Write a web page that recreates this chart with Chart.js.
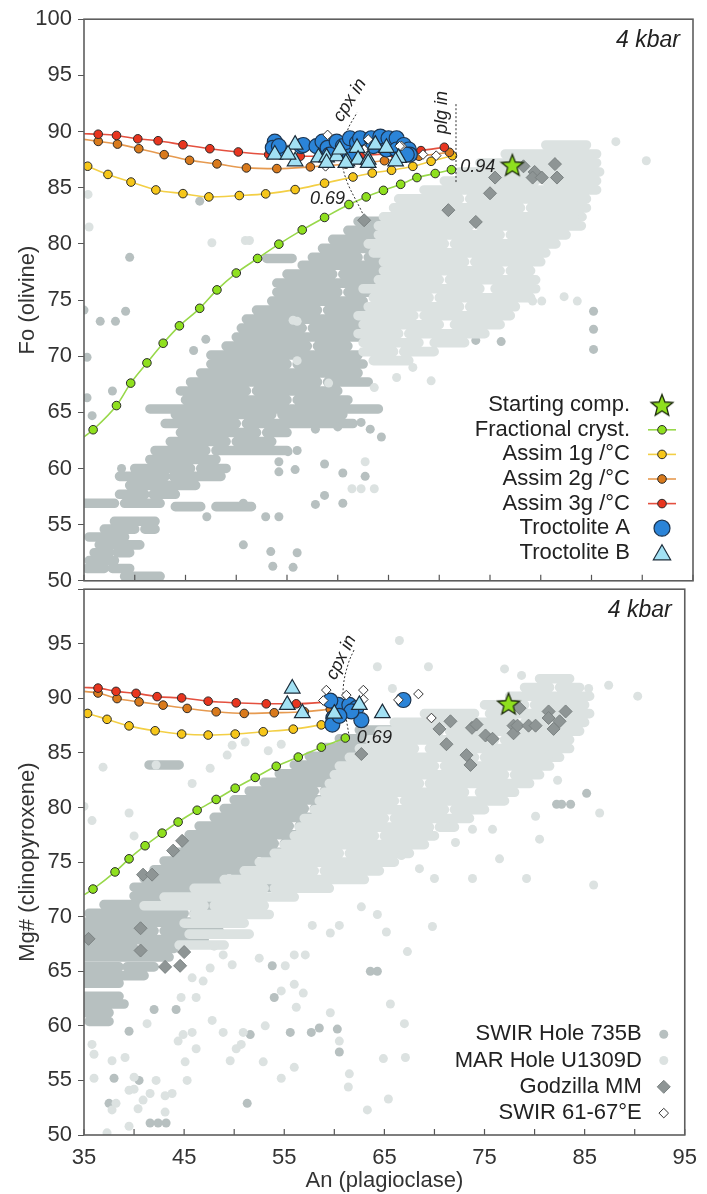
<!DOCTYPE html>
<html>
<head>
<meta charset="utf-8">
<script src="https://cdn.jsdelivr.net/npm/chart.js@4.4.0/dist/chart.umd.min.js"></script>
<style>
  body { margin: 0; background: #fff; width: 707px; height: 1194px; position: relative; overflow: hidden; }
  #olChart { position: absolute; left: 0; top: 0; }
  #cpxChart { position: absolute; left: 0; top: 570px; }
</style>
</head>
<body>
<canvas id="olChart" width="707" height="600"></canvas>
<canvas id="cpxChart" width="707" height="624"></canvas>
<script>
// ---------- shared axis ----------
const anTickMarks = [35, 40, 45, 50, 55, 60, 65, 70, 75, 80, 85, 90, 95];

// ---------- olivine panel (An, Fo) ----------
// model curves, first point = where the line meets the left axis
const olFracCryst = [[35,62.8],[35.9,63.45],[38.2,65.6],[39.6,67.6],[41.2,69.4],[42.8,71.15],[44.4,72.7],[46.4,74.26],[48.1,75.9],[50.0,77.4],[52.1,78.7],[54.2,79.97],[56.5,81.24],[58.7,82.35],[61.1,83.5],[62.8,84.18],[64.5,84.76],[66.2,85.3],[67.8,85.9],[69.6,86.26],[71.2,86.6]];
const olAssim1 = [[35,87.05],[35.36,86.91],[37.36,86.18],[39.63,85.5],[42.08,84.8],[44.75,84.47],[47.3,84.18],[50.3,84.3],[52.9,84.45],[55.8,84.83],[58.7,85.4],[61.5,85.95],[63.4,86.3],[65.3,86.55],[67.4,86.9],[69.2,87.35],[71.3,87.85]];
const olAssim2 = [[35,89.3],[36.4,89.12],[38.3,88.88],[40.4,88.47],[42.9,87.94],[45.4,87.44],[48.1,87.12],[51.0,86.76],[54.0,86.7],[57.3,86.85],[60.8,87.1],[64.6,87.4],[68.0,87.8],[71.0,88.15]];
const olAssim3 = [[35,89.8],[36.4,89.76],[38.2,89.65],[40.3,89.35],[42.3,89.18],[44.75,88.82],[47.4,88.47],[50.2,88.18],[53.2,87.95],[56.3,87.8],[59.4,87.8],[62.5,87.9],[65.5,88.05],[68.2,88.3],[70.5,88.6]];
const olStart = [[77.2, 87.0]];
const olTrocA = [[53.8,89.1],[53.6,88.55],[54.3,88.24],[54.2,88.7],[56.4,88.7],[56.6,88.8],[57.9,88.7],[58.5,89.1],[59.0,88.55],[59.9,89.1],[60.5,88.7],[61.2,89.4],[61.9,89.0],[62.2,89.4],[63.3,89.4],[63.5,88.7],[64.2,89.55],[64.8,88.4],[65.0,89.4],[65.8,89.4],[65.8,88.4],[66.5,88.8],[67.0,88.4],[67.1,87.95],[59.2,87.95],[61.2,87.8],[66.8,87.95]];
const olTrocB = [[53.8,87.95],[55.8,88.83],[55.8,87.35],[55.1,87.95],[58.1,87.7],[58.9,87.7],[59.9,87.8],[60.9,87.35],[61.9,88.55],[62.0,87.5],[63.0,87.5],[63.7,88.83],[64.8,88.55],[66.0,87.65],[60.2,88.4],[58.9,87.2],[60.8,87.2],[63.0,87.2],[65.7,87.35]];
const olSwir6167 = [[59.0,89.7],[63.0,89.3],[62.7,88.3],[66.3,88.7],[58.8,86.9],[68.4,87.95],[69.7,87.85],[62.6,88.4],[66.1,88.7]];
const olGodzilla = [[62.6,82.1],[70.9,83.0],[73.6,81.95],[75.0,84.5],[75.5,85.9],[78.3,86.9],[79.4,86.4],[79.2,85.9],[80.1,85.9],[81.4,87.1],[81.6,85.9]];
const olCpxIn = [[62.6,82.4],[60.5,86.8],[60.9,89.9],[61.9,91.7]];
const olPlgIn = [[71.65,85.5],[71.65,92.5]];
// dense rows of SWIR 735B / U1309D analyses: [Fo, An from, An to, An from, An to ...]
const olHole735BRows = [[50.4,39.0,42.5],[51.1,35.3,37.0,37.8,39.5],[51.8,35.5,38.0],[52.5,36.0,37.5,38.3,39.5],[53.2,36.5,40.5],[53.9,35.5,37.0,37.8,39.0],[54.6,37.0,40.0,41.0,42.0],[55.3,38.0,42.0],[56.6,44.0,46.5,48.0,51.5],[56.9,35.0,38.0,39.0,42.5],[57.7,38.5,41.0,41.8,44.0],[58.5,39.5,46.0],[59.3,38.5,43.0,43.8,48.5],[60.0,40.0,45.5,46.5,49.0],[60.8,41.5,48.0],[61.6,42.0,47.0,48.0,55.0],[62.4,43.5,49.0,50.0,53.5],[63.2,44.5,52.0,53.0,55.0],[64.0,43.0,50.0,51.0,61.5],[64.8,44.0,53.5,54.5,60.5],[65.3,41.5,64.0],[66.1,45.0,55.0,56.0,61.0],[66.9,44.5,51.0,52.0,60.0],[67.7,45.5,58.0,59.0,63.0],[68.5,46.5,62.0],[69.3,47.5,55.0,56.0,62.5],[70.1,47.5,62.0],[70.9,49.0,57.0,58.0,61.0],[71.7,50.0,62.0],[72.5,50.5,56.5,57.5,63.0],[73.3,51.0,62.5],[74.1,52.0,58.0,59.0,63.5],[74.9,53.5,62.5],[75.7,54.0,60.0,61.0,63.5],[76.5,54.0,64.5],[77.3,55.0,59.5,60.5,65.5],[78.1,56.5,64.0],[78.7,53.0,55.5],[78.8,57.5,62.0,63.0,66.0],[79.6,58.5,67.0],[80.4,59.5,63.5,64.5,68.0],[81.2,61.0,65.0,66.0,70.0],[82.0,62.0,66.0]];
const olHole735BDots = [[35.0,74.1],[36.6,73.1],[38.1,73.1],[39.1,74.0],[35.3,69.9],[35.3,66.3],[35.8,64.7],[37.8,66.9],[38.7,60.0],[41.5,60.8],[39.5,78.8],[46.4,83.8],[54.2,59.7],[55.8,59.9],[58.7,60.4],[60.5,59.6],[62.7,59.3],[52.9,55.7],[54.2,55.7],[50.7,53.2],[53.4,52.6],[56.0,52.5],[53.6,51.3],[55.6,51.2],[58.7,57.6],[60.5,56.9],[57.8,56.8],[50.7,56.9],[47.1,55.7],[57.8,63.5],[60.0,63.7],[62.3,64.1],[63.2,63.5],[55.1,61.5],[54.2,60.6],[56.0,61.6],[85.2,74.0],[85.2,72.4],[85.2,70.6],[76.1,71.3],[73.6,71.4],[45.8,70.5],[47.0,71.5],[64.3,62.8]];
const olU1309DRows = [[69.6,63.5,67.0],[70.4,62.5,65.5,66.5,69.5],[71.2,62.5,68.0,69.5,72.5],[72.0,62.0,66.0,67.0,74.5],[72.8,62.5,70.0,71.5,76.0],[73.6,62.0,67.5,68.5,77.0],[74.4,63.0,72.0,73.0,77.5],[75.2,63.5,69.0,70.0,79.0],[76.0,62.5,74.0,75.5,79.5],[76.8,64.0,70.0,71.0,79.5],[77.6,64.5,76.0,77.0,79.0],[78.4,64.5,72.5,73.5,80.0],[79.2,63.5,80.5],[80.0,63.0,70.5,71.5,81.5],[80.8,64.0,76.0,77.0,82.5],[81.6,64.0,73.0,74.0,84.0],[82.4,64.5,84.0],[83.2,65.5,78.0,79.0,84.5],[84.0,66.0,72.0,73.0,84.5],[84.8,68.5,85.5],[85.6,70.5,79.5,80.5,85.5],[86.4,72.0,85.8],[87.2,74.0,81.0,82.0,85.5],[88.0,76.5,85.5],[88.8,80.5,84.5]];
const olU1309DDots = [[87.4,89.1],[90.4,87.4],[84.1,83.8],[84.1,82.4],[35.5,81.5],[35.4,84.4],[47.6,80.1],[50.9,80.3],[51.3,80.3],[79.2,74.9],[80.1,74.9],[82.3,75.3],[83.6,74.9],[67.4,69.0],[69.2,67.8],[65.8,68.1],[63.6,67.2],[62.7,60.6],[61.4,58.2],[62.3,58.2],[63.6,58.2],[56.0,73.1],[55.6,73.2],[56.0,69.6],[59.1,67.6]];

// ---------- clinopyroxene panel (An, Mg#) ----------
const cpxFracCryst = [[35,72.0],[35.9,72.53],[38.1,74.1],[39.5,75.3],[41.1,76.5],[42.8,77.65],[44.4,78.67],[46.3,79.75],[48.2,80.74],[50.1,81.77],[52.1,82.76],[54.2,83.78],[56.4,84.62],[58.7,85.53],[61.1,86.37]];
const cpxAssim1 = [[35,88.7],[35.36,88.62],[37.3,88.08],[39.5,87.48],[42.1,87.03],[44.75,86.73],[47.4,86.64],[50.1,86.73],[52.9,86.94],[55.9,87.18],[58.7,87.57]];
const cpxAssim2 = [[35,90.64],[36.4,90.49],[38.3,89.98],[40.5,89.68],[42.9,89.38],[45.3,89.08],[48.2,88.77],[51.0,88.62],[54.0,88.68],[57.0,88.78],[59.6,89.0]];
const cpxAssim3 = [[35,91.0],[36.4,90.94],[38.2,90.64],[40.2,90.46],[42.3,90.16],[44.75,90.04],[47.4,89.74],[50.2,89.59],[53.2,89.5],[56.2,89.5],[59.5,89.68]];
const cpxStart = [[77.4, 89.5]];
const cpxTrocA = [[60.4,89.4],[59.9,88.2],[61.5,89.4],[62.2,89.1],[62.7,88.0],[66.9,89.85],[61.7,88.8],[59.6,89.8],[59.8,87.6],[60.5,88.4]];
const cpxTrocB = [[55.8,90.9],[55.3,89.4],[56.8,88.65],[60.0,88.6],[62.5,89.4],[64.8,88.65]];
const cpxSwir6167 = [[59.2,90.76],[58.9,89.8],[61.2,90.3],[62.9,90.76],[62.9,89.9],[68.4,90.4],[66.4,89.86],[69.7,88.2]];
const cpxGodzilla = [[62.7,84.9],[70.5,87.2],[71.6,87.9],[71.2,85.8],[73.2,84.8],[73.6,83.9],[73.75,87.3],[74.2,87.6],[75.1,86.6],[75.8,86.3],[77.9,87.5],[77.9,86.8],[78.5,89.1],[78.3,87.5],[79.4,87.5],[80.1,87.5],[81.4,88.8],[81.4,88.2],[81.9,87.2],[82.5,87.9],[83.1,88.8],[43.9,76.05],[44.8,76.95],[40.9,73.85],[41.8,73.85],[35.45,67.97],[40.65,68.94],[40.65,66.9],[43.1,65.4],[44.6,65.5],[45.0,66.76]];
const cpxCpxIn = [[61.5,86.4],[61.0,89.4],[60.9,91.1],[61.4,93.2],[62.0,94.5]];
// dense rows: [Mg#, An from, An to, An from, An to ...]
const cpxHole735BRows = [[60.4,35.5,37.5],[61.2,35.0,37.5],[62.0,35.0,39.0],[62.7,35.0,38.5],[63.9,35.0,38.5],[64.6,35.0,41.0],[65.4,35.0,38.5,39.3,42.0],[66.3,35.0,43.5],[67.1,35.0,40.0,41.0,44.0],[67.9,35.0,47.0],[68.7,35.0,42.0,43.0,48.5],[69.5,35.0,50.5],[70.3,35.5,45.0,46.0,52.0],[71.1,37.0,51.5],[71.9,40.0,47.0,48.0,52.0],[72.7,40.0,55.0],[73.5,41.0,49.0,50.0,56.0],[74.3,42.0,57.5],[75.1,43.0,52.0,53.0,58.5],[75.9,44.0,59.5],[76.7,45.0,54.0,55.0,60.0],[77.5,45.5,61.0],[78.3,46.5,55.5,56.5,61.5],[79.1,48.0,62.0],[79.9,49.0,57.0,58.0,63.0],[80.7,50.0,63.5],[81.5,51.5,58.0,59.0,64.0],[82.3,53.0,64.5],[83.1,54.5,60.0,61.0,65.5],[83.9,56.0,66.0],[83.9,41.5,44.5],[84.7,57.5,67.0],[85.5,59.0,67.5],[86.3,60.5,68.0],[87.1,62.5,66.5]];
const cpxHole735BDots = [[43.2,51.1],[41.6,51.1],[42.4,51.1],[51.3,52.9],[51.6,59.2],[54.0,62.6],[55.6,59.4],[57.7,59.4],[58.5,59.8],[60.3,59.7],[60.5,57.6],[63.6,65.0],[64.3,65.0],[53.8,65.5],[44.2,61.5],[42.0,61.5],[39.5,59.5],[38.0,55.2],[85.2,81.3],[83.6,80.3],[82.7,80.3],[82.2,80.3],[69.4,78.0],[37.5,52.9],[40.5,55.0]];
const cpxU1309DRows = [[91.8,80.5,83.5],[91.0,79.0,81.5,82.5,84.5],[90.2,77.5,85.5],[89.4,75.0,79.0,80.0,85.0],[88.6,69.0,74.0,75.5,85.5],[87.8,66.0,78.0,79.0,85.0],[87.0,64.5,70.5,71.5,84.5],[86.2,63.5,76.0,77.0,83.5],[85.4,62.5,68.0,69.5,83.5],[84.6,61.5,74.0,75.0,82.5],[83.8,60.5,70.0,71.0,81.5],[83.0,60.0,77.0,78.0,80.5],[82.2,59.5,68.5,69.5,79.5],[81.4,59.0,73.0,74.5,78.0],[80.6,58.5,66.0,67.0,77.0],[79.8,58.0,71.0,72.0,75.0],[79.0,57.0,65.0,66.0,73.5],[78.2,56.5,69.5,70.5,72.0],[77.4,56.0,64.0,65.0,70.0],[76.6,55.0,69.0],[75.8,54.0,60.5,61.5,67.5],[75.0,52.5,66.0],[74.2,51.0,58.0,59.0,64.5],[73.4,49.0,63.0],[72.6,46.0,53.0,54.0,59.5],[71.8,43.0,56.0],[71.0,41.0,47.0,48.0,53.0],[70.2,46.0,53.5],[69.4,45.0,51.0],[68.4,45.5,51.5],[67.4,44.5,49.0]];
const cpxU1309DDots = [[66.5,95.3],[69.4,92.9],[64.3,92.9],[65.8,90.9],[77.0,92.7],[78.7,92.1],[90.3,90.2],[87.4,91.2],[85.4,90.9],[86.5,79.5],[85.9,72.9],[82.3,82.5],[81.4,84.8],[80.1,79.2],[80.5,77.1],[79.2,73.5],[76.5,75.3],[75.8,78.0],[73.8,78.0],[71.2,78.3],[72.1,76.8],[70.0,73.5],[68.5,74.4],[66.7,75.6],[73.8,73.5],[35.0,80.1],[35.8,78.8],[39.5,79.5],[40.0,77.4],[42.2,83.9],[45.8,82.2],[47.6,83.6],[49.3,84.8],[49.8,85.7],[51.1,86.0],[53.4,85.2],[54.7,85.8],[36.9,83.7],[37.3,50.2],[37.8,52.3],[38.2,52.9],[39.5,50.8],[40.0,54.2],[40.0,55.3],[40.9,53.2],[41.6,53.8],[42.2,55.0],[43.1,53.6],[43.1,52.1],[43.8,53.8],[45.3,55.0],[45.1,56.7],[44.4,58.6],[44.9,59.2],[45.8,59.4],[46.2,57.9],[47.8,60.5],[48.9,59.4],[49.6,56.8],[50.2,57.9],[50.7,58.3],[50.9,59.4],[52.9,56.7],[53.1,60.0],[54.7,63.2],[54.7,55.2],[56.0,56.2],[56.2,61.7],[56.0,63.8],[56.9,63.0],[59.6,61.2],[60.5,58.6],[61.4,54.4],[61.5,55.6],[63.3,52.3],[64.9,57.0],[65.4,53.3],[65.6,62.0],[67.1,57.1],[67.0,60.2],[67.3,66.8],[65.2,68.6],[69.8,69.1],[64.3,70.2],[62.7,70.9],[60.5,69.2],[59.6,68.5],[57.8,69.2],[57.1,66.5],[56.0,66.5],[55.1,65.5],[52.5,66.2],[49.8,65.6],[48.9,66.5],[48.0,67.3],[47.6,65.3],[46.2,62.6],[45.8,64.4],[46.9,64.1],[44.7,62.6],[41.3,60.2],[36.0,57.4],[35.8,58.3],[37.8,56.8],[39.1,57.1],[39.5,54.1],[40.4,52.4],[36.0,55.2]];

// ---------- styles ----------
Chart.defaults.font.family = "'Liberation Sans', Arial, sans-serif";
Chart.defaults.color = '#333';
const FONT = "'Liberation Sans', Arial, sans-serif";
const COL = {
  dark: '#b7c0c0', light: '#dce2e1',
  red: '#e8351f', redLine: '#e4503f',
  orange: '#d97a1c', orangeLine: '#e69a50',
  yellow: '#f6c619', yellowLine: '#f3cf45',
  green: '#8fe01e', greenLine: '#98d84a',
  blue: '#2b84d8', cyan: '#a2e1f4', grey: '#8e9595', edge: '#2a2a2a'
};

function starPath(ctx, cx, cy, R, r) {
  ctx.beginPath();
  for (let i = 0; i < 10; i++) {
    const ang = -Math.PI / 2 + i * Math.PI / 5;
    const rr = i % 2 ? r : R;
    ctx.lineTo(cx + rr * Math.cos(ang), cy + rr * Math.sin(ang));
  }
  ctx.closePath();
}
const starImg = document.createElement('canvas');
starImg.width = 26; starImg.height = 26;
(function () {
  const c = starImg.getContext('2d');
  starPath(c, 13, 13.8, 11.5, 5);
  c.fillStyle = COL.green; c.fill();
  c.strokeStyle = '#1c2a0c'; c.lineWidth = 1.3; c.stroke();
})();

const pts = arr => arr.map(p => ({x: p[0], y: p[1]}));
// each row: value, then pairs of An limits; a NaN point breaks the line between pieces
const rows = arr => arr.flatMap(r => {
  const out = [];
  for (let i = 1; i + 1 < r.length; i += 2) {
    out.push({x: r[i], y: r[0]}, {x: r[i + 1], y: r[0]}, {x: NaN, y: NaN});
  }
  return out;
});

function curve(data, line, fill) {
  return { data: pts(data), showLine: true, borderColor: line, borderWidth: 1.6,
    backgroundColor: fill, pointBorderColor: COL.edge, pointBorderWidth: 1,
    pointRadius: c => c.dataIndex === 0 ? 0 : 4.3, cubicInterpolationMode: 'monotone' };
}
function guide(data) {
  return { data: pts(data), showLine: true, borderColor: '#333', borderWidth: 1,
    borderDash: [2, 2], pointRadius: 0, tension: 0.4 };
}
function cloudRows(data, color) {
  return { data: rows(data), showLine: true, borderColor: color, borderWidth: 9.6,
    borderCapStyle: 'round', pointRadius: 0, spanGaps: false, clip: 0 };
}
function cloudDots(data, color) {
  return { data: pts(data), pointRadius: 4.5, backgroundColor: color, borderWidth: 0, pointBorderWidth: 0, clip: 0 };
}

// datasets listed top-most first (Chart.js draws index 0 last)
function panelSets(p) {
  return [
    { data: pts(p.start), pointStyle: starImg },
    { data: pts(p.trocB), pointStyle: 'triangle', pointRadius: 9, backgroundColor: COL.cyan, pointBorderColor: '#1c2c3a', pointBorderWidth: 1.2 },
    { data: pts(p.swir), pointStyle: 'rectRot', pointRadius: 4.8, backgroundColor: '#fff', pointBorderColor: '#333', pointBorderWidth: 1 },
    { data: pts(p.trocA), pointStyle: 'circle', pointRadius: 7.5, backgroundColor: COL.blue, pointBorderColor: '#1d3550', pointBorderWidth: 1.2 },
    { data: pts(p.godzilla), pointStyle: 'rectRot', pointRadius: 6.5, backgroundColor: COL.grey, pointBorderColor: '#7b8282', pointBorderWidth: 1 },
    ...p.guides.map(guide),
    curve(p.a3, COL.redLine, COL.red),
    curve(p.a2, COL.orangeLine, COL.orange),
    curve(p.a1, COL.yellowLine, COL.yellow),
    curve(p.fc, COL.greenLine, COL.green),
    cloudDots(p.lightDots, COL.light),
    cloudRows(p.lightRows, COL.light),
    cloudDots(p.darkDots, COL.dark),
    cloudRows(p.darkRows, COL.dark)
  ];
}

function drawMarker(ctx, kind, x, y, item) {
  ctx.save();
  ctx.lineWidth = 1.2;
  if (kind === 'star') {
    ctx.drawImage(starImg, x - 13, y - 13);
  } else if (kind === 'curve') {
    ctx.strokeStyle = item.line; ctx.lineWidth = 1.6;
    ctx.beginPath(); ctx.moveTo(x - 14, y); ctx.lineTo(x + 14, y); ctx.stroke();
    ctx.beginPath(); ctx.arc(x, y, 4.3, 0, Math.PI * 2);
    ctx.fillStyle = item.fill; ctx.fill(); ctx.strokeStyle = COL.edge; ctx.lineWidth = 1; ctx.stroke();
  } else if (kind === 'circle') {
    ctx.beginPath(); ctx.arc(x, y, 8, 0, Math.PI * 2);
    ctx.fillStyle = COL.blue; ctx.fill(); ctx.strokeStyle = '#1d3550'; ctx.stroke();
  } else if (kind === 'triangle') {
    const r = 10;
    ctx.beginPath();
    for (let i = 0; i < 3; i++) {
      const a = i * 2 * Math.PI / 3;
      ctx.lineTo(x + Math.sin(a) * r, y + 2 - Math.cos(a) * r);
    }
    ctx.closePath(); ctx.fillStyle = COL.cyan; ctx.fill(); ctx.strokeStyle = '#1c2c3a'; ctx.stroke();
  } else if (kind === 'dot') {
    ctx.beginPath(); ctx.arc(x, y, 4.5, 0, Math.PI * 2); ctx.fillStyle = item.fill; ctx.fill();
  } else if (kind === 'diamond') {
    const r = item.r;
    ctx.beginPath(); ctx.moveTo(x - r, y); ctx.lineTo(x, y - r); ctx.lineTo(x + r, y); ctx.lineTo(x, y + r); ctx.closePath();
    ctx.fillStyle = item.fill; ctx.fill(); ctx.strokeStyle = item.edge; ctx.lineWidth = 1; ctx.stroke();
  }
  ctx.restore();
}

function makeDecor(cfg) {
  return {
    id: 'decor',
    afterDraw(chart) {
      const {ctx, chartArea: a, scales: {x, y}} = chart;
      ctx.save();
      ctx.strokeStyle = '#555';
      ctx.lineWidth = 1.2;
      anTickMarks.forEach(v => {
        const px = x.getPixelForValue(v);
        ctx.beginPath(); ctx.moveTo(px, a.bottom); ctx.lineTo(px, a.bottom - 6); ctx.stroke();
      });
      ctx.lineWidth = 1.6;
      ctx.strokeStyle = '#5e5e5e';
      ctx.strokeRect(a.left, a.top, a.right - a.left, a.bottom - a.top);

      ctx.fillStyle = '#222';
      ctx.font = 'italic 23px ' + FONT;
      ctx.textAlign = 'right'; ctx.textBaseline = 'middle';
      ctx.fillText('4 kbar', a.right - 13, a.top + 21);

      ctx.font = 'italic 18px ' + FONT;
      cfg.notes.forEach(n => {
        ctx.save();
        ctx.translate(x.getPixelForValue(n.x), y.getPixelForValue(n.y));
        ctx.rotate(n.rot * Math.PI / 180);
        ctx.textAlign = 'center';
        ctx.fillText(n.text, 0, 0);
        ctx.restore();
      });

      ctx.font = '22px ' + FONT;
      ctx.textAlign = 'right';
      const lg = cfg.legend;
      lg.items.forEach((it, i) => {
        const yy = a.top + lg.top + i * lg.step;
        ctx.fillStyle = '#222';
        ctx.fillText(it.label, a.right - lg.textRight, yy);
        drawMarker(ctx, it.kind, a.right - lg.marker, yy, it);
      });
      ctx.restore();
    }
  };
}

function yAxis(title, hideTop) {
  return {
    min: 50, max: 100,
    ticks: { stepSize: 5, color: '#333', font: { size: 22 }, padding: 6,
      callback: v => (hideTop && v === 100) ? '' : v },
    grid: { drawOnChartArea: false, drawTicks: true, tickLength: 6, color: '#555' },
    border: { display: false },
    title: { display: true, text: title, color: '#333', font: { size: 22 }, padding: { top: 15, bottom: 0 } },
    afterFit: s => { s.width = 84; }
  };
}

const commonPlugins = { legend: { display: false }, tooltip: { enabled: false } };

// ---------- olivine chart ----------
new Chart(document.getElementById('olChart'), {
  type: 'scatter',
  data: { datasets: panelSets({
    start: olStart, trocA: olTrocA, trocB: olTrocB, swir: olSwir6167, godzilla: olGodzilla,
    guides: [olCpxIn, olPlgIn], fc: olFracCryst, a1: olAssim1, a2: olAssim2, a3: olAssim3,
    darkRows: olHole735BRows, darkDots: olHole735BDots, lightRows: olU1309DRows, lightDots: olU1309DDots
  }) },
  options: {
    responsive: false, animation: false, events: [],
    layout: { padding: { top: 19, right: 14, bottom: 17, left: 0 } },
    scales: {
      x: { type: 'linear', min: 35, max: 95, display: false },
      y: yAxis('Fo (olivine)', false)
    },
    plugins: commonPlugins
  },
  plugins: [makeDecor({
    notes: [
      { text: 'cpx in', x: 61.2, y: 92.8, rot: -58 },
      { text: 'plg in', x: 70.3, y: 91.7, rot: -90 },
      { text: '0.69', x: 59.0, y: 84.0, rot: 0 },
      { text: '0.94', x: 73.8, y: 86.8, rot: 0 }
    ],
    legend: { top: 386, step: 24.6, textRight: 63, marker: 31, items: [
      { label: 'Starting comp.', kind: 'star' },
      { label: 'Fractional cryst.', kind: 'curve', line: COL.greenLine, fill: COL.green },
      { label: 'Assim 1g /°C', kind: 'curve', line: COL.yellowLine, fill: COL.yellow },
      { label: 'Assim 2g /°C', kind: 'curve', line: COL.orangeLine, fill: COL.orange },
      { label: 'Assim 3g /°C', kind: 'curve', line: COL.redLine, fill: COL.red },
      { label: 'Troctolite A', kind: 'circle' },
      { label: 'Troctolite B', kind: 'triangle' }
    ] }
  })]
});

// ---------- clinopyroxene chart ----------
new Chart(document.getElementById('cpxChart'), {
  type: 'scatter',
  data: { datasets: panelSets({
    start: cpxStart, trocA: cpxTrocA, trocB: cpxTrocB, swir: cpxSwir6167, godzilla: cpxGodzilla,
    guides: [cpxCpxIn], fc: cpxFracCryst, a1: cpxAssim1, a2: cpxAssim2, a3: cpxAssim3,
    darkRows: cpxHole735BRows, darkDots: cpxHole735BDots, lightRows: cpxU1309DRows, lightDots: cpxU1309DDots
  }) },
  options: {
    responsive: false, animation: false, events: [],
    layout: { padding: { top: 13, right: 14, bottom: 0, left: 0 } },
    scales: {
      x: { type: 'linear', min: 35, max: 95,
        ticks: { stepSize: 10, color: '#333', font: { size: 22 }, padding: 10, maxRotation: 0 },
        grid: { display: false, drawTicks: false },
        border: { display: false },
        title: { display: true, text: 'An (plagioclase)', color: '#333', font: { size: 22 }, padding: { top: 0, bottom: 0 } },
        afterFit: s => { s.height = 59; } },
      y: yAxis('Mg# (clinopyroxene)', true)
    },
    plugins: commonPlugins
  },
  plugins: [makeDecor({
    notes: [
      { text: 'cpx in', x: 60.7, y: 93.75, rot: -64 },
      { text: '0.69', x: 64.0, y: 86.4, rot: 0 }
    ],
    legend: { top: 445, step: 26.3, textRight: 43, marker: 21, items: [
      { label: 'SWIR Hole 735B', kind: 'dot', fill: COL.dark },
      { label: 'MAR Hole U1309D', kind: 'dot', fill: COL.light },
      { label: 'Godzilla MM', kind: 'diamond', r: 6.5, fill: COL.grey, edge: '#7b8282' },
      { label: 'SWIR 61-67°E', kind: 'diamond', r: 4.8, fill: '#fff', edge: '#333' }
    ] }
  })]
});
</script>
</body>
</html>
